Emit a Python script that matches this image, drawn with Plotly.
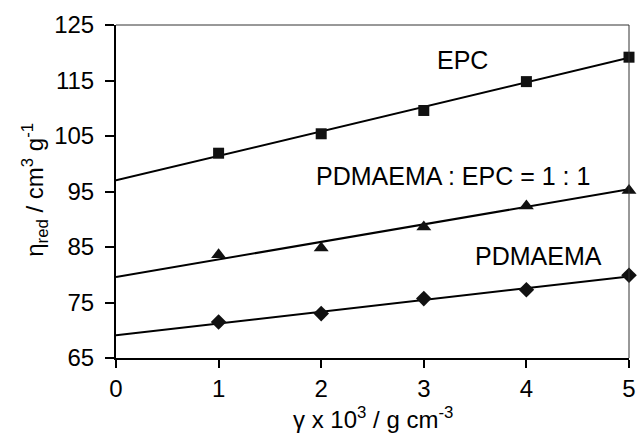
import plotly.graph_objects as go

# Data
conc = [1, 2, 3, 4, 5]
epc = [101.9, 105.4, 109.6, 114.8, 119.2]
mix = [83.6, 84.8, 88.6, 92.4, 95.2]
pdmaema = [71.5, 73.0, 75.7, 77.3, 79.9]

fit_x = [0, 5]
epc_fit = [97.0, 119.1]
mix_fit = [79.6, 95.4]
pdmaema_fit = [69.1, 79.7]

x_ticks = [0, 1, 2, 3, 4, 5]
y_ticks = [65, 75, 85, 95, 105, 115, 125]

x_title = "γ x 10<sup>3</sup> / g cm<sup>-3</sup>"
y_title = "η<sub>red</sub> / cm<sup>3</sup> g<sup>-1</sup>"

FONT = "Liberation Sans, Arial, sans-serif"

fig = go.Figure()
line_style = dict(color="black", width=2)
for fy in (epc_fit, mix_fit, pdmaema_fit):
    fig.add_trace(go.Scatter(x=fit_x, y=fy, mode="lines", line=line_style,
                             hoverinfo="skip", showlegend=False, cliponaxis=False))

fig.add_trace(go.Scatter(x=conc, y=epc, mode="markers",
                         marker=dict(symbol="square", size=11, color="#111"),
                         showlegend=False, cliponaxis=False))
fig.add_trace(go.Scatter(x=conc, y=mix, mode="markers",
                         marker=dict(symbol="triangle-up", size=13, color="#111"),
                         showlegend=False, cliponaxis=False))
fig.add_trace(go.Scatter(x=conc, y=pdmaema, mode="markers",
                         marker=dict(symbol="diamond", size=12, color="#111"),
                         showlegend=False, cliponaxis=False))

annots = [
    ("EPC", 3.38, 118.7),
    ("PDMAEMA : EPC = 1 : 1", 3.28, 97.8),
    ("PDMAEMA", 4.12, 83.3),
]
for txt, ax, ay in annots:
    fig.add_annotation(x=ax, y=ay, text=txt, showarrow=False,
                       font=dict(family=FONT, size=25, color="black"))

# axis titles
fig.add_annotation(xref="paper", yref="paper", x=0.5, y=-0.18, text=x_title,
                   showarrow=False, xanchor="center", yanchor="middle",
                   font=dict(family=FONT, size=24, color="black"))
fig.add_annotation(xref="paper", yref="paper", x=-0.158, y=0.505, text=y_title,
                   showarrow=False, xanchor="center", yanchor="middle", textangle=-90,
                   font=dict(family=FONT, size=24, color="black"))

fig.update_layout(
    width=638, height=437,
    margin=dict(l=116, r=9, t=25, b=79, autoexpand=False),
    paper_bgcolor="white", plot_bgcolor="white",
    font=dict(family=FONT, size=24, color="black"),
    shapes=[
        dict(type="line", xref="paper", yref="paper", x0=0, x1=1, y0=1, y1=1,
             line=dict(color="#333", width=1)),
        dict(type="line", xref="paper", yref="paper", x0=1, x1=1, y0=0, y1=1,
             line=dict(color="#333", width=1)),
    ],
)
fig.update_xaxes(
    range=[0, 5], tickvals=x_ticks, ticktext=[str(v) for v in x_ticks],
    showgrid=False, zeroline=False, showline=True, linecolor="black", linewidth=2,
    ticks="outside", ticklen=8, tickwidth=1.5, tickcolor="black",
    automargin=False,
    tickfont=dict(family=FONT, size=24),
)
fig.update_yaxes(
    range=[65, 125], tickvals=y_ticks, ticktext=[str(v) for v in y_ticks],
    showgrid=False, zeroline=False, showline=True, linecolor="black", linewidth=2,
    ticks="outside", ticklen=9, tickwidth=1.5, tickcolor="black",
    ticklabelstandoff=6, automargin=False,
    tickfont=dict(family=FONT, size=24),
)

post = (
    "document.documentElement.style.margin='0';"
    "document.body.style.margin='0';"
    "document.body.style.overflow='hidden';"
)
fig.write_html("out.html", config={"displayModeBar": False}, post_script=post)
